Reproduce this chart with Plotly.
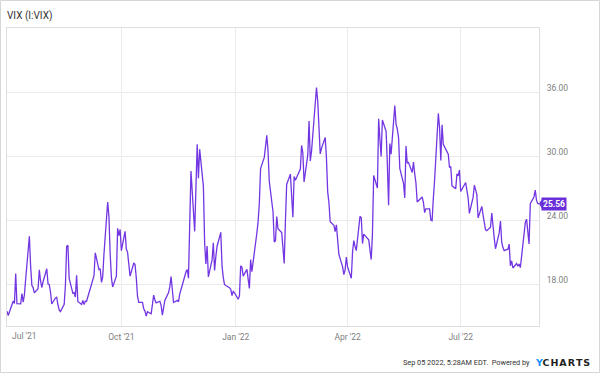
import pandas as pd
import plotly.graph_objects as go

# ---- data (VIX daily closes) ----
start_date = "2021-07-01"
end_date = "2022-09-02"
market_holidays = ["2021-07-05", "2021-09-06", "2021-11-25", "2021-12-24",
                   "2022-01-17", "2022-02-21", "2022-04-15", "2022-05-30",
                   "2022-06-20", "2022-07-04"]

vix_2021_07 = [15.48, 15.07, 16.44, 16.20, 19.00, 16.18, 16.17, 17.12, 16.33, 17.01, 18.45,
               22.50, 19.73, 17.91, 17.69, 17.20, 17.58, 19.36, 18.31, 17.70, 18.24]
vix_2021_08 = [19.46, 18.04, 17.97, 17.28, 16.15, 16.72, 16.79, 16.06, 15.59, 15.45, 16.12,
               17.91, 21.57, 21.67, 18.56, 17.15, 17.22, 16.79, 18.84, 16.39, 16.11, 16.48]
vix_2021_09 = [16.11, 16.41, 16.41, 18.00, 18.53, 18.80, 20.95, 19.37, 19.46, 18.18, 18.69,
               20.81, 25.71, 24.36, 20.87, 18.63, 17.75, 18.76, 23.25, 22.56, 23.14]
vix_2021_10 = [21.15, 22.96, 21.30, 21.00, 19.54, 18.77, 20.00, 19.85, 18.64, 16.86, 16.30,
               16.30, 15.70, 15.49, 15.01, 15.43, 15.24, 15.98, 16.98, 16.53, 16.26]
vix_2021_11 = [16.41, 16.03, 15.10, 16.03, 16.48, 17.22, 17.78, 18.73, 17.66, 16.29, 16.49,
               16.37, 17.11, 17.59, 17.91, 19.17, 19.38, 18.58, 28.62, 22.96, 27.19]
vix_2021_12 = [31.12, 27.95, 30.67, 27.18, 21.89, 19.90, 21.58, 18.69, 20.31, 21.89, 19.29,
               20.57, 21.57, 22.87, 19.70, 18.63, 17.96, 17.68, 17.54, 16.95, 17.33, 17.22]
vix_2022_01 = [16.60, 16.91, 19.73, 19.61, 18.76, 19.40, 18.41, 17.62, 20.31, 19.19, 22.79,
               23.85, 25.59, 28.85, 29.90, 31.16, 31.96, 30.49, 27.66, 24.83]
vix_2022_02 = [21.96, 22.09, 24.35, 23.22, 22.86, 21.44, 19.96, 23.91, 27.36, 28.33, 25.70,
               24.29, 28.11, 27.75, 28.81, 31.02, 30.32, 27.59, 30.15]
vix_2022_03 = [33.32, 29.57, 30.48, 31.98, 36.45, 35.13, 32.45, 30.23, 30.75, 31.77, 29.83,
               26.67, 25.67, 23.87, 23.53, 22.94, 23.57, 21.67, 20.81, 19.63, 18.90, 19.33, 20.56]
vix_2022_04 = [19.63, 18.57, 21.03, 22.10, 21.55, 21.16, 24.37, 24.26, 21.82, 22.70, 22.17,
               21.37, 20.32, 22.68, 28.21, 27.02, 33.52, 31.60, 29.99, 33.40]
vix_2022_05 = [32.34, 29.25, 25.42, 31.20, 30.19, 34.75, 32.99, 32.56, 31.77, 28.87, 27.47,
               26.10, 30.96, 29.35, 29.43, 28.48, 29.45, 28.37, 27.50, 25.72, 26.19]
vix_2022_06 = [25.69, 24.72, 25.07, 25.07, 24.02, 23.96, 26.09, 27.75, 34.02, 32.69, 29.62,
               32.95, 31.13, 30.19, 28.95, 29.05, 27.23, 26.95, 28.36, 28.16, 28.71]
vix_2022_07 = [26.70, 27.54, 26.73, 26.08, 24.64, 26.17, 27.29, 26.82, 26.40, 24.23, 25.30,
               24.50, 23.88, 23.11, 23.03, 23.36, 24.69, 23.24, 22.33, 21.33]
vix_2022_08 = [22.84, 23.93, 21.95, 21.44, 21.15, 21.29, 21.77, 19.74, 20.20, 19.53, 19.95,
               19.69, 19.90, 19.56, 20.60, 23.80, 24.11, 22.82, 21.78, 25.56, 26.21, 26.83, 25.87]
vix_2022_09 = [25.56, 25.56]

x_tick_dates = ["2021-10-01", "2022-01-01", "2022-04-01", "2022-07-01"]
x_tick_labels = ["Oct '21", "Jan '22", "Apr '22", "Jul '22"]
first_x_label = "Jul '21"
y_tick_vals = [18, 24, 30, 36]

title_text = "VIX (I:VIX)"
footer_text = "Sep 05 2022, 5:28AM EDT.  Powered by"

# ---- assemble ----
vix = (vix_2021_07 + vix_2021_08 + vix_2021_09 + vix_2021_10 + vix_2021_11 + vix_2021_12 +
       vix_2022_01 + vix_2022_02 + vix_2022_03 + vix_2022_04 + vix_2022_05 + vix_2022_06 +
       vix_2022_07 + vix_2022_08 + vix_2022_09)
dates = pd.bdate_range(start_date, end_date)
dates = dates[~dates.isin(pd.to_datetime(market_holidays))]
n = min(len(dates), len(vix))
dates = dates[-n:]
vix = vix[-n:]
last_val = vix[-1]

W, H = 600, 373
L, R, T, B = 7, 61, 28, 47
pw, ph = W - L - R, H - T - B

LINE = "#7236e2"
TAG = "#6a2fd8"
GRID = "#ebebeb"
FRAME = "#dedede"
FONT = "Roboto, sans-serif"
TICK_COLOR = "#808080"

fig = go.Figure()
fig.add_trace(go.Scatter(x=dates, y=vix, mode="lines",
                         line=dict(color=LINE, width=1.3), hoverinfo="x+y",
                         showlegend=False))

fig.update_layout(
    width=W, height=H,
    margin=dict(l=L, r=R, t=T, b=B, pad=0),
    paper_bgcolor="white", plot_bgcolor="white",
    showlegend=False,
    xaxis=dict(
        range=[dates[0], dates[-1]],
        tickmode="array", tickvals=x_tick_dates, ticktext=x_tick_labels,
        showgrid=True, gridcolor=GRID, gridwidth=1,
        showline=True, linecolor=FRAME, linewidth=1, mirror=True,
        ticks="", ticklabelstandoff=3,
        tickfont=dict(family=FONT, size=8.5, color=TICK_COLOR),
        zeroline=False, fixedrange=True, automargin=False,
    ),
    yaxis=dict(
        range=[14.09, 42.03], side="right",
        tickmode="array", tickvals=y_tick_vals, tickformat=".2f",
        showgrid=True, gridcolor=GRID, gridwidth=1,
        showline=True, linecolor=FRAME, linewidth=1, mirror=True,
        ticks="", ticklabelstandoff=5, ticklabelshift=-4,
        tickfont=dict(family=FONT, size=8.5, color=TICK_COLOR),
        zeroline=False, fixedrange=True, automargin=False,
    ),
    annotations=[
        dict(text=title_text, xref="paper", yref="paper", x=0, y=1,
             xanchor="left", yanchor="bottom", yshift=4, xshift=-2, showarrow=False,
             font=dict(family=FONT, size=10, color="#333333")),
        dict(text=first_x_label, xref="paper", yref="paper", x=0, y=0,
             xanchor="left", yanchor="top", xshift=3, yshift=-3, showarrow=False,
             font=dict(family=FONT, size=8.5, color=TICK_COLOR)),
        dict(text="<b>%.2f</b>" % last_val, xref="paper", yref="y", x=1, y=last_val,
             xanchor="left", yanchor="middle", xshift=2, showarrow=False,
             bgcolor=TAG, borderpad=1,
             font=dict(family=FONT, size=8.5, color="white")),
        dict(text=footer_text, xref="paper", yref="paper", x=(531.5 - L) / pw,
             y=(H - B - 362) / ph, xanchor="right", yanchor="middle", showarrow=False,
             font=dict(family=FONT, size=7.3, color="#333333")),
        dict(text="<b><span style='color:#1e8fff'>Y</span>C\u200aH\u200aA\u200aR\u200aT\u200aS</b>",
             xref="paper", yref="paper", x=(532.5 - L) / pw,
             y=(H - B - 362) / ph, xanchor="left", yanchor="middle", showarrow=False,
             font=dict(family="DejaVu Sans, Roboto, sans-serif", size=9.5, color="#1f1f1f")),
    ],
    shapes=[
        dict(type="path", xref="paper", yref="y", xsizemode="pixel", ysizemode="pixel",
             xanchor=1, yanchor=last_val, path="M 0 0 L 3.5 -5.5 L 3.5 5.5 Z",
             fillcolor=TAG, line=dict(width=0)),
        dict(type="rect", xref="paper", yref="paper",
             x0=(0.5 - L) / pw, x1=(W - 0.5 - L) / pw,
             y0=(H - B - (H - 0.5)) / ph, y1=(H - B - 0.5) / ph,
             line=dict(color="#d6d6d6", width=1), fillcolor="rgba(0,0,0,0)", layer="below"),
    ],
)

fig.write_html("out.html", config={"displayModeBar": False},
               post_script="document.body.style.margin='0';")
